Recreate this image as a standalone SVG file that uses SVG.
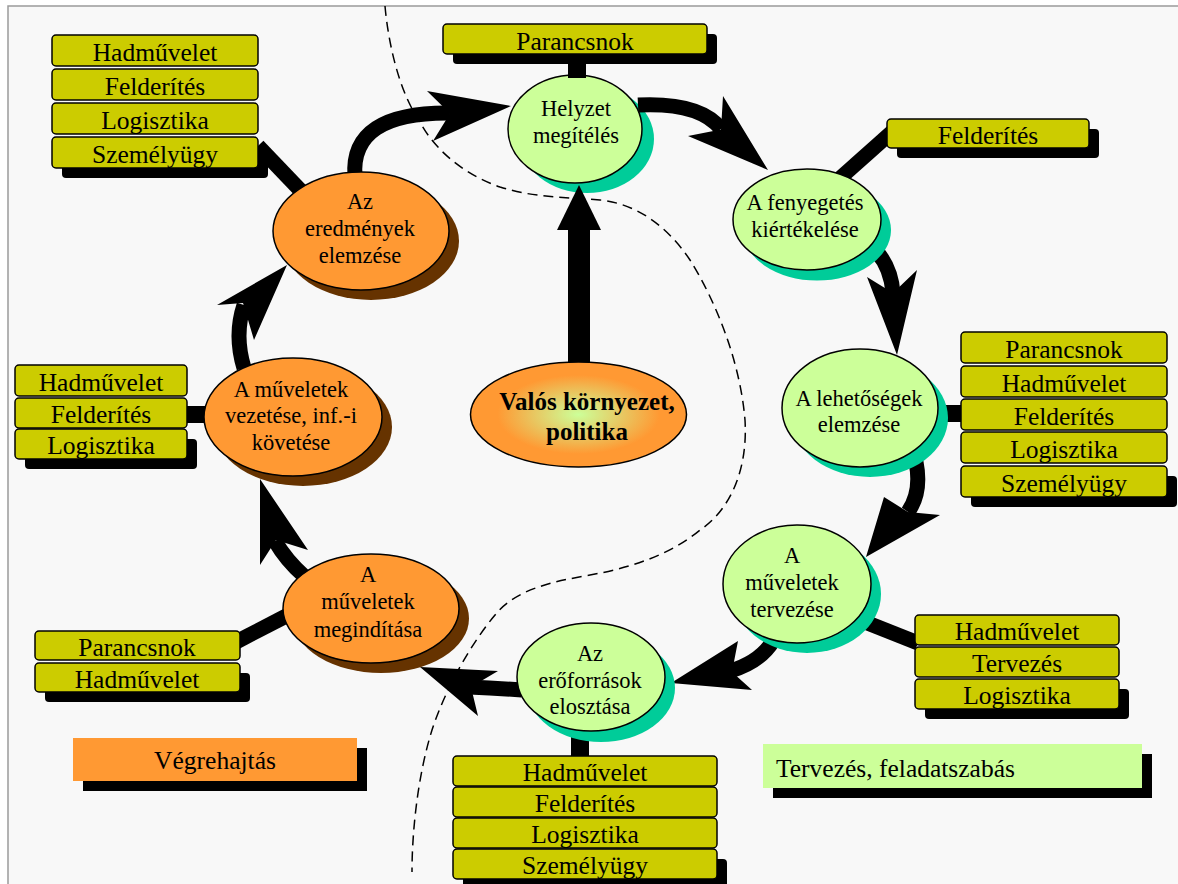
<svg xmlns="http://www.w3.org/2000/svg" width="1178" height="884" viewBox="0 0 1178 884">
  <defs>
    <radialGradient id="envGrad" cx="50%" cy="50%" r="50%">
      <stop offset="0" stop-color="#ccff99"/>
      <stop offset="0.75" stop-color="#ff9933"/>
      <stop offset="1" stop-color="#ff9933"/>
    </radialGradient>
    <style>
      .frame { fill: #f8f8f8; stroke: #9a9a9a; stroke-width: 1.5; }
      .box { fill: #cccc00; stroke: #000; stroke-width: 1.5; }
      .shadow { fill: #000; }
      .btxt { font-family: "Liberation Serif", "Times New Roman", serif; font-size: 25.5px; fill: #000; text-anchor: middle; }
      .etxt { font-family: "Liberation Serif", "Times New Roman", serif; font-size: 22.5px; fill: #000; text-anchor: middle; }
      .plan { fill: #ccff99; stroke: #000; stroke-width: 1.5; }
      .plan-sh { fill: #00cc99; }
      .exec { fill: #ff9933; stroke: #000; stroke-width: 1.5; }
      .exec-sh { fill: #663300; }
      .shaft { fill: none; stroke: #000; stroke-width: 15; }
      .link { fill: none; stroke: #000; stroke-width: 15; }
      .ah { fill: #000; }
      .dash { fill: none; stroke: #000; stroke-width: 1.5; stroke-dasharray: 10 6; }
    </style>
  </defs>

  <!-- page -->
  <rect x="0" y="0" width="1178" height="884" fill="#ffffff"/>
  <rect class="frame" x="8" y="6" width="1190" height="900"/>

  <!-- boundary between execution and planning halves -->
  <path class="dash" d="M385,6 C388,40 398,90 420,122 C432,145 458,172 500,187 C535,198 565,197 600,200 C640,204 670,230 690,260 C715,300 740,360 745,420 C748,470 730,510 700,530 C670,555 630,568 590,575 C550,582 515,590 495,615 C470,645 445,690 432,730 C418,775 412,830 412,872"/>

  <!-- situation assessment node -->
  <g id="node-helyzet">
    <ellipse class="plan-sh" cx="587" cy="139" rx="67" ry="54"/>
    <ellipse class="plan" cx="575" cy="129" rx="67" ry="54"/>
    <text class="etxt" x="576" y="116">Helyzet</text>
    <text class="etxt" x="576" y="143">megítélés</text>
  </g>

  <g id="connectors">
    <!-- stack links -->
    <rect x="568" y="53" width="18" height="25" fill="#000"/>
    <line class="link" x1="258" y1="146" x2="302" y2="192"/>
    <line class="link" x1="893" y1="131" x2="838" y2="180"/>
    <rect x="935" y="405" width="30" height="17" fill="#000"/>
    <line class="link" x1="860" y1="620" x2="918" y2="643"/>
    <rect x="571" y="728" width="18" height="30" fill="#000"/>
    <line class="link" x1="236" y1="642" x2="292" y2="613"/>
    <rect x="185" y="406" width="24" height="17" fill="#000"/>

    <!-- cycle arrows -->
    <path class="shaft" d="M355,176 Q350,112 450,113"/>
    <polygon class="ah" points="511,106 427,91 450,113.5 433,141"/>

    <path class="shaft" d="M638,105 Q700,102 721,129"/>
    <polygon class="ah" points="768,170 723,96 721,129.5 688,136"/>

    <path class="shaft" d="M877,252 Q891,268 893,293"/>
    <polygon class="ah" points="897,355 867,277 893,293 917,270"/>

    <path class="shaft" d="M916,462 Q922,492 908,512"/>
    <polygon class="ah" points="866,557 884,497 908,512 940,515"/>

    <path class="shaft" d="M773,641 Q760,662 730,671"/>
    <polygon class="ah" points="671,683 738,641 732,672 752,690"/>

    <path class="shaft" d="M522,690 Q495,688 469,687"/>
    <polygon class="ah" points="420,667 498,671 471,687 478,716"/>

    <path class="shaft" d="M304,576 Q286,560 275,541"/>
    <polygon class="ah" points="260,479 260,565 276,540 308,550"/>

    <path class="shaft" d="M244,368 Q234,335 244,305"/>
    <polygon class="ah" points="287,265 217,305 243,303 254,340"/>

    <!-- environment influence -->
    <rect x="568" y="229" width="22" height="135" fill="#000"/>
    <polygon class="ah" points="557,230 601,230 579,185"/>
  </g>

  <!-- planning nodes -->
  <g id="node-fenyegetes">
    <ellipse class="plan-sh" cx="817" cy="230" rx="74" ry="50.5"/>
    <ellipse class="plan" cx="807" cy="219.5" rx="74" ry="50.5"/>
    <text class="etxt" x="805" y="210">A fenyegetés</text>
    <text class="etxt" x="805" y="237">kiértékelése</text>
  </g>
  <g id="node-lehetosegek">
    <ellipse class="plan-sh" cx="870" cy="418" rx="78" ry="59"/>
    <ellipse class="plan" cx="860" cy="408" rx="78" ry="59"/>
    <text class="etxt" x="859" y="406">A lehetőségek</text>
    <text class="etxt" x="859" y="432">elemzése</text>
  </g>
  <g id="node-tervezese">
    <ellipse class="plan-sh" cx="807" cy="594" rx="74" ry="59"/>
    <ellipse class="plan" cx="797" cy="584" rx="74" ry="59"/>
    <text class="etxt" x="792" y="563">A</text>
    <text class="etxt" x="792" y="590">műveletek</text>
    <text class="etxt" x="792" y="617">tervezése</text>
  </g>
  <g id="node-eroforrasok">
    <ellipse class="plan-sh" cx="601" cy="688" rx="74" ry="54"/>
    <ellipse class="plan" cx="591" cy="677" rx="74" ry="54"/>
    <text class="etxt" x="590" y="661">Az</text>
    <text class="etxt" x="590" y="688">erőforrások</text>
    <text class="etxt" x="590" y="714">elosztása</text>
  </g>

  <!-- execution nodes -->
  <g id="node-meginditasa">
    <ellipse class="exec-sh" cx="381" cy="618.5" rx="88" ry="54.5"/>
    <ellipse class="exec" cx="371" cy="608.5" rx="88" ry="54.5"/>
    <text class="etxt" x="368" y="582">A</text>
    <text class="etxt" x="368" y="609">műveletek</text>
    <text class="etxt" x="368" y="637">megindítása</text>
  </g>
  <g id="node-vezetese">
    <ellipse class="exec-sh" cx="303" cy="427" rx="89" ry="59"/>
    <ellipse class="exec" cx="293" cy="417" rx="89" ry="59"/>
    <text class="etxt" x="291" y="397">A műveletek</text>
    <text class="etxt" x="291" y="423">vezetése, inf.-i</text>
    <text class="etxt" x="291" y="450">követése</text>
  </g>
  <g id="node-eredmenyek">
    <ellipse class="exec-sh" cx="371" cy="241" rx="88" ry="59"/>
    <ellipse class="exec" cx="361" cy="231" rx="88" ry="59"/>
    <text class="etxt" x="360" y="209">Az</text>
    <text class="etxt" x="360" y="236">eredmények</text>
    <text class="etxt" x="360" y="263">elemzése</text>
  </g>

  <!-- environment node -->
  <g id="node-kornyezet">
    <ellipse cx="578.5" cy="414.5" rx="108" ry="52.5" fill="url(#envGrad)" stroke="#000" stroke-width="1.5"/>
    <text x="587" y="410" font-family="'Liberation Serif', 'Times New Roman', serif" font-size="25" font-weight="bold" text-anchor="middle">Valós környezet,</text>
    <text x="587" y="440" font-family="'Liberation Serif', 'Times New Roman', serif" font-size="25" font-weight="bold" text-anchor="middle">politika</text>
  </g>

  <!-- role stacks -->
  <g id="stack-eredmenyek">
    <rect class="shadow" x="62" y="147" width="206" height="31" rx="4"/>
    <rect class="box" x="52" y="35" width="206" height="31" rx="4"/>
    <rect class="box" x="52" y="69" width="206" height="31" rx="4"/>
    <rect class="box" x="52" y="103" width="206" height="31" rx="4"/>
    <rect class="box" x="52" y="137" width="206" height="31" rx="4"/>
    <text class="btxt" x="155" y="61">Hadművelet</text>
    <text class="btxt" x="155" y="95">Felderítés</text>
    <text class="btxt" x="155" y="129">Logisztika</text>
    <text class="btxt" x="155" y="163">Személyügy</text>
  </g>
  <g id="stack-helyzet">
    <rect class="shadow" x="453" y="34" width="264" height="30" rx="4"/>
    <rect class="box" x="443" y="24" width="264" height="30" rx="4"/>
    <text class="btxt" x="575" y="50">Parancsnok</text>
  </g>
  <g id="stack-fenyegetes">
    <rect class="shadow" x="897" y="129" width="202" height="29" rx="4"/>
    <rect class="box" x="887" y="119" width="202" height="29" rx="4"/>
    <text class="btxt" x="988" y="144">Felderítés</text>
  </g>
  <g id="stack-lehetosegek">
    <rect class="shadow" x="971" y="476" width="206" height="31" rx="4"/>
    <rect class="box" x="961" y="332" width="206" height="31" rx="4"/>
    <rect class="box" x="961" y="366" width="206" height="31" rx="4"/>
    <rect class="box" x="961" y="399" width="206" height="31" rx="4"/>
    <rect class="box" x="961" y="432" width="206" height="31" rx="4"/>
    <rect class="box" x="961" y="466" width="206" height="31" rx="4"/>
    <text class="btxt" x="1064" y="358">Parancsnok</text>
    <text class="btxt" x="1064" y="392">Hadművelet</text>
    <text class="btxt" x="1064" y="425">Felderítés</text>
    <text class="btxt" x="1064" y="458">Logisztika</text>
    <text class="btxt" x="1064" y="492">Személyügy</text>
  </g>
  <g id="stack-tervezese">
    <rect class="shadow" x="925" y="689" width="204" height="30" rx="4"/>
    <rect class="box" x="915" y="615" width="204" height="30" rx="4"/>
    <rect class="box" x="915" y="647" width="204" height="30" rx="4"/>
    <rect class="box" x="915" y="679" width="204" height="30" rx="4"/>
    <text class="btxt" x="1017" y="640">Hadművelet</text>
    <text class="btxt" x="1017" y="672">Tervezés</text>
    <text class="btxt" x="1017" y="704">Logisztika</text>
  </g>
  <g id="stack-eroforrasok">
    <rect class="shadow" x="463" y="859" width="264" height="30" rx="4"/>
    <rect class="box" x="453" y="756" width="264" height="30" rx="4"/>
    <rect class="box" x="453" y="787" width="264" height="30" rx="4"/>
    <rect class="box" x="453" y="818" width="264" height="30" rx="4"/>
    <rect class="box" x="453" y="849" width="264" height="30" rx="4"/>
    <text class="btxt" x="585" y="781">Hadművelet</text>
    <text class="btxt" x="585" y="812">Felderítés</text>
    <text class="btxt" x="585" y="843">Logisztika</text>
    <text class="btxt" x="585" y="874">Személyügy</text>
  </g>
  <g id="stack-megindítasa">
    <rect class="shadow" x="45" y="673" width="205" height="29" rx="4"/>
    <rect class="box" x="35" y="631" width="205" height="29" rx="4"/>
    <rect class="box" x="35" y="663" width="205" height="29" rx="4"/>
    <text class="btxt" x="137" y="656">Parancsnok</text>
    <text class="btxt" x="137" y="688">Hadművelet</text>
  </g>
  <g id="stack-vezetese">
    <rect class="shadow" x="25" y="439" width="172" height="30" rx="4"/>
    <rect class="box" x="15" y="365" width="172" height="31" rx="4"/>
    <rect class="box" x="15" y="398" width="172" height="30" rx="4"/>
    <rect class="box" x="15" y="429" width="172" height="30" rx="4"/>
    <text class="btxt" x="101" y="391">Hadművelet</text>
    <text class="btxt" x="101" y="423">Felderítés</text>
    <text class="btxt" x="101" y="454">Logisztika</text>
  </g>

  <!-- legend -->
  <g id="legend-vegrehajtas">
    <rect class="shadow" x="83" y="748" width="284" height="43"/>
    <rect x="73" y="738" width="284" height="43" fill="#ff9933"/>
    <text class="btxt" x="215" y="769">Végrehajtás</text>
  </g>
  <g id="legend-tervezes">
    <rect class="shadow" x="773" y="754" width="379" height="44"/>
    <rect x="763" y="744" width="379" height="44" fill="#ccff99"/>
    <text class="btxt" x="776" y="777" text-anchor="start" style="text-anchor:start">Tervezés, feladatszabás</text>
  </g>
</svg>
